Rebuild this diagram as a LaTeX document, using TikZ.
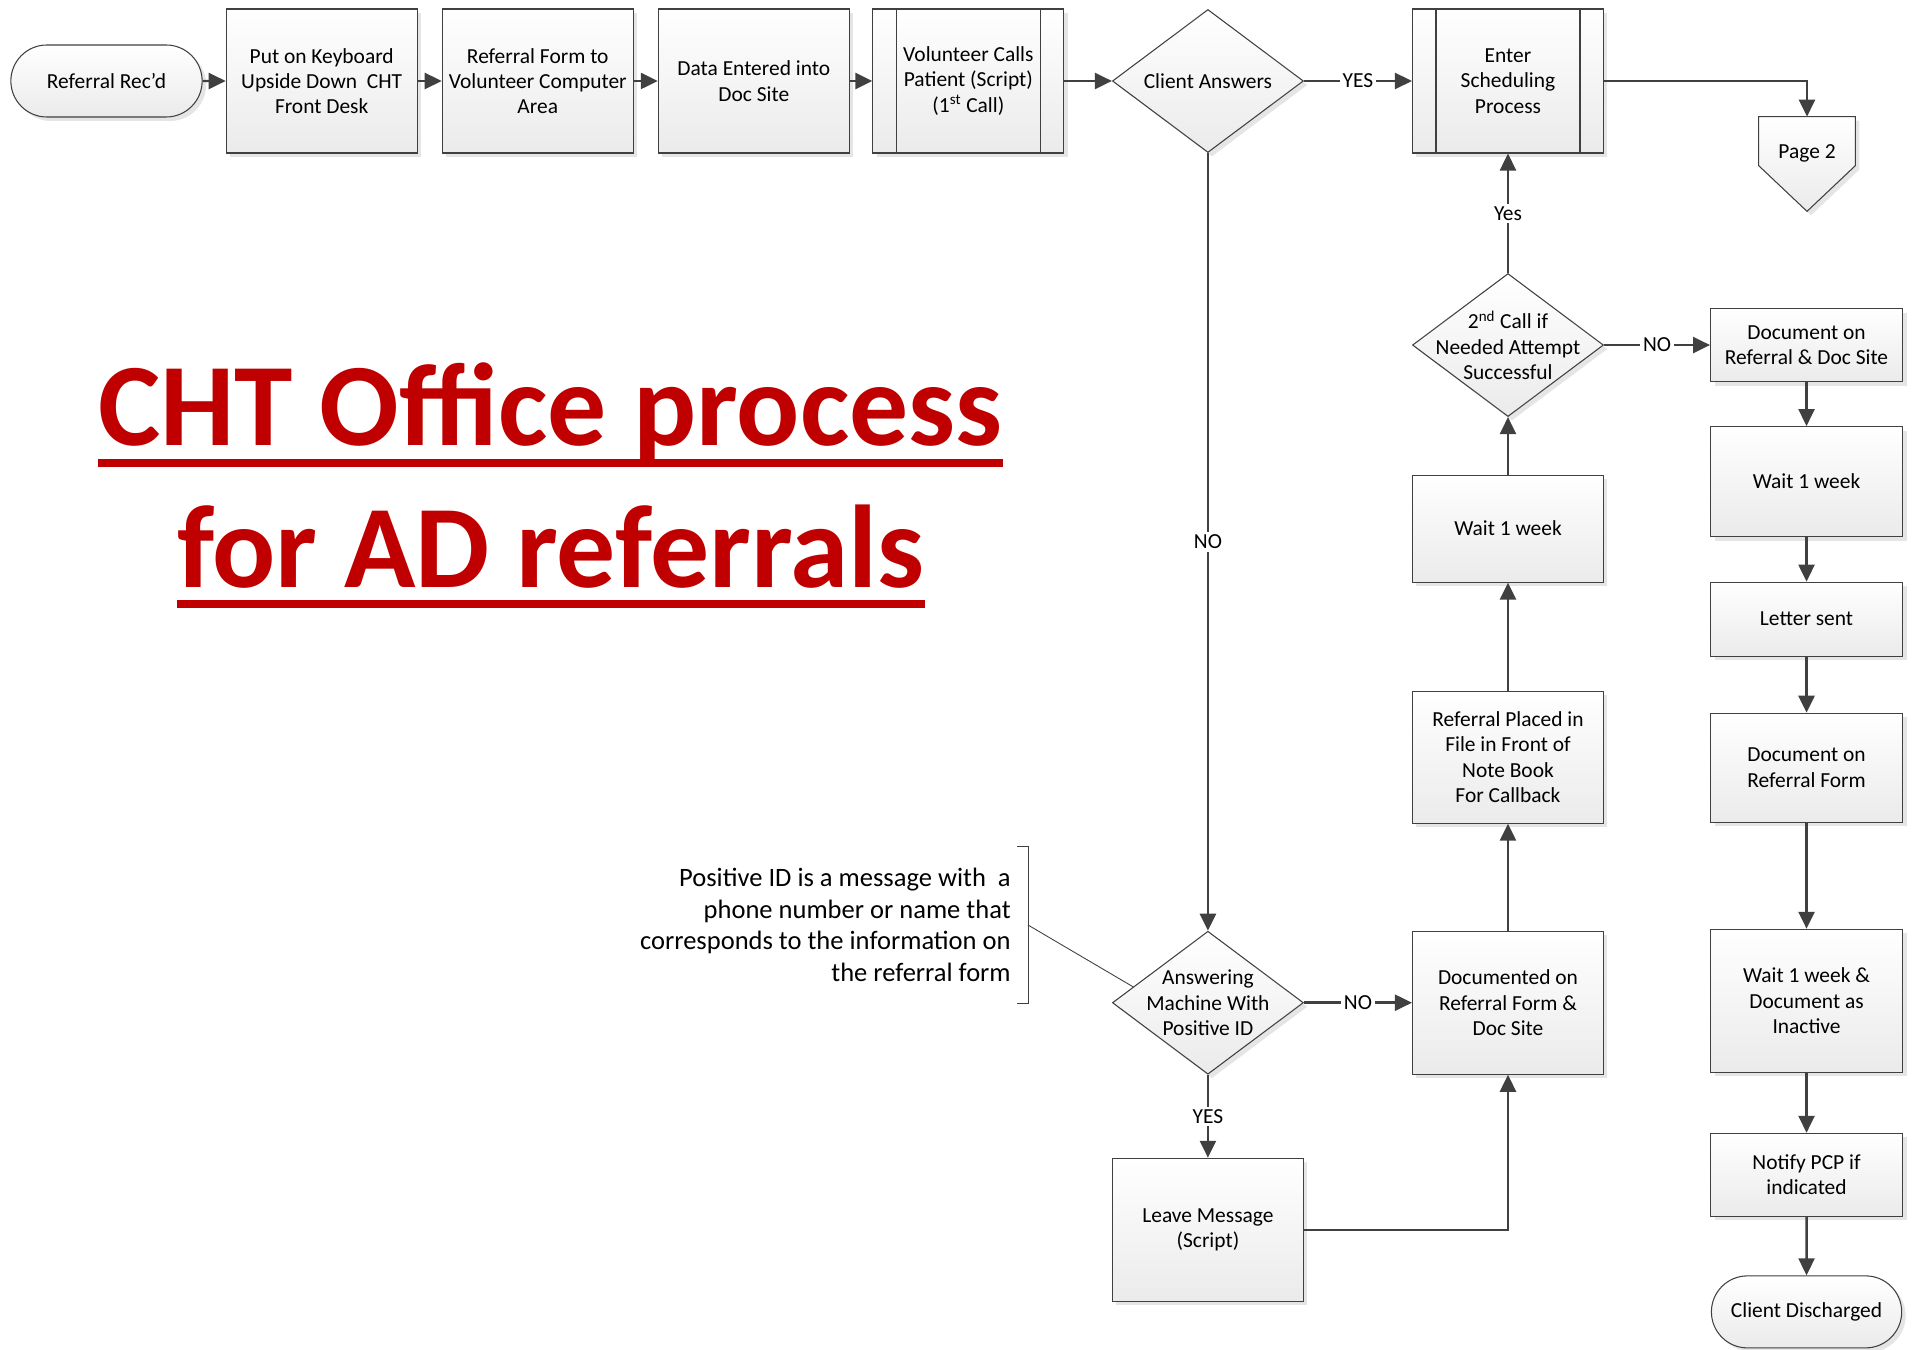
\documentclass[tikz,border=0pt]{standalone}
\usepackage{fontspec}
\setmainfont{Carlito}
\usepackage{xcolor}
\usepackage{tikz}
\usetikzlibrary{shapes.geometric, shapes.misc, arrows.meta, positioning, shadows, backgrounds, calc}
\definecolor{linegray}{HTML}{404040}
\definecolor{titlered}{HTML}{C00000}
\newcommand{\boxfont}{\fontsize{12.2}{14.4}\selectfont}
\tikzset{
  boxbase/.style={draw=linegray, line width=0.6pt, top color=white, bottom color=gray!16,
                  drop shadow={shadow xshift=0.08cm, shadow yshift=-0.08cm, fill=gray!40, opacity=0.5},
                  align=center, font=\boxfont},
  procbox/.style={boxbase, rectangle, minimum width=3.82cm, minimum height=2.88cm, inner sep=2pt},
  subproc/.style={procbox, path picture={
                    \draw[linegray, line width=0.6pt]
                      ([xshift=0.47cm]path picture bounding box.north west) -- ([xshift=0.47cm]path picture bounding box.south west)
                      ([xshift=-0.47cm]path picture bounding box.north east) -- ([xshift=-0.47cm]path picture bounding box.south east);}},
  terminal/.style={boxbase, rounded rectangle, minimum width=4.06cm, minimum height=1.44cm},
  decision/.style={boxbase, diamond, minimum width=3.82cm, minimum height=2.86cm, inner sep=0pt},
  dlabel/.style={align=center, font=\boxfont, inner sep=0pt},
  offpage/.style={rectangle, minimum width=1.92cm, minimum height=1.88cm, inner sep=0pt,
                  text height=0.3cm, text depth=0.5cm, font=\boxfont},
  arrow/.style={-{Triangle[length=0.34cm, width=0.32cm]}, line width=1.4pt, draw=linegray},
  branch/.style={fill=white, inner sep=1.5pt, font=\boxfont},
}

\begin{document}
\begin{tikzpicture}[
  titletext/.style={inner sep=0pt, text=titlered, font=\fontsize{67}{79}\selectfont\bfseries},
  titleline/.style={draw=titlered, line width=0.16cm},
  notetext/.style={align=right, inner xsep=0.34cm, inner ysep=0pt, font=\fontsize{15.1}{18}\selectfont},
  notebracket/.style={draw=linegray, line width=0.5pt}
]
  \useasboundingbox (0,0) rectangle (38.28,-27);

  % top row
  \node (rec) [terminal] at (2.13,-1.62) {Referral Rec'd};
  \node (keyb) [procbox, right=0.46cm of rec] {Put on Keyboard\\Upside Down\ \ CHT\\Front Desk};
  \node (form) [procbox, right=0.48cm of keyb] {Referral Form to\\Volunteer Computer\\Area};
  \node (data) [procbox, right=0.48cm of form] {Data Entered into\\Doc Site};
  \node (vol) [subproc, right=0.45cm of data] {Volunteer Calls\\Patient (Script)\\(1\textsuperscript{st} Call)};
  \node (ans) [decision, right=0.95cm of vol, label={[dlabel]center:Client Answers}] {};
  \node (sched) [subproc, right=2.16cm of ans] {Enter\\Scheduling\\Process};
  \node (page2) [offpage] at (36.14,-3.28) {Page 2};
  \begin{scope}[on background layer]
    \draw[boxbase] (page2.north west) -- (page2.north east) -- ([yshift=-0.98cm]page2.north east)
      -- (page2.south) -- ([yshift=-0.98cm]page2.north west) -- cycle;
  \end{scope}

  % middle column
  \node (call2) [decision, below=2.39cm of sched,
    label={[dlabel]center:2\textsuperscript{nd} Call if\\Needed Attempt\\Successful}] {};
  \node (wait1) [procbox, minimum height=2.14cm, below=1.15cm of call2] {Wait 1 week};
  \node (placed) [procbox, minimum height=2.64cm, below=2.16cm of wait1] {Referral Placed in\\File in Front of\\Note Book\\For Callback};
  \node (doced) [procbox, minimum height=2.86cm, below=2.14cm of placed] {Documented on\\Referral Form \&\\Doc Site};
  \node (machine) [decision, left=2.16cm of doced,
    label={[dlabel]center:Answering\\Machine With\\Positive ID}] {};
  \node (leave) [procbox, minimum height=2.86cm, below=1.66cm of machine] {Leave Message\\(Script)};

  % right column
  \node (docsite) [procbox, minimum width=3.84cm, minimum height=1.46cm, right=2.12cm of call2] {Document on\\Referral \& Doc Site};
  \node (wait2) [procbox, minimum width=3.84cm, minimum height=2.2cm, below=0.88cm of docsite] {Wait 1 week};
  \node (letter) [procbox, minimum width=3.84cm, minimum height=1.48cm, below=0.89cm of wait2] {Letter sent};
  \node (docform) [procbox, minimum width=3.84cm, minimum height=2.18cm, below=1.12cm of letter] {Document on\\Referral Form};
  \node (inactive) [procbox, minimum width=3.84cm, minimum height=2.86cm, below=2.12cm of docform] {Wait 1 week \&\\Document as\\Inactive};
  \node (notify) [procbox, minimum width=3.84cm, minimum height=1.66cm, below=1.2cm of inactive] {Notify PCP if\\indicated};
  \node (discharged) [terminal, minimum width=4.04cm, below=1.17cm of notify] {Client Discharged};

  % title and note
  \node (title1) [titletext, anchor=base] at (11.01,-8.92) {CHT Office process};
  \node (title2) [titletext, anchor=base] at (11.02,-11.74) {for AD referrals};
  \draw[titleline] ([yshift=-0.34cm]title1.base west) -- ([yshift=-0.34cm]title1.base east);
  \draw[titleline] ([yshift=-0.34cm]title2.base west) -- ([yshift=-0.34cm]title2.base east);

  \node (note) [notetext, minimum height=3.12cm, anchor=east] at (20.56,-18.5)
    {Positive ID is a message with\ \ a\\phone number or name that\\corresponds to the information on\\the referral form};
  \draw[notebracket] ([xshift=-0.22cm]note.north east) -- (note.north east) -- (note.south east) -- ([xshift=-0.22cm]note.south east);
  \draw[notebracket] (note.east) -- (machine.168);

  % connectors
  \draw[arrow] (rec) -- (keyb);
  \draw[arrow] (keyb) -- (form);
  \draw[arrow] (form) -- (data);
  \draw[arrow] (data) -- (vol);
  \draw[arrow] (vol) -- (ans);
  \draw[arrow] (ans.east) -- node[branch] {YES} (sched.west);
  \draw[arrow] (sched.east) -| (page2.north);
  \draw[arrow] (ans.south) -- node[branch] {NO} (machine.north);
  \draw[arrow] (machine.east) -- node[branch] {NO} (doced.west);
  \draw[arrow] (machine.south) -- node[branch] {YES} (leave.north);
  \draw[arrow] (leave.east) -| (doced.south);
  \draw[arrow] (doced) -- (placed);
  \draw[arrow] (placed) -- (wait1);
  \draw[arrow] (wait1) -- (call2.south);
  \draw[arrow] (call2.north) -- node[branch] {Yes} (sched.south);
  \draw[arrow] (call2.east) -- node[branch] {NO} (docsite.west);
  \draw[arrow] (docsite) -- (wait2);
  \draw[arrow] (wait2) -- (letter);
  \draw[arrow] (letter) -- (docform);
  \draw[arrow] (docform) -- (inactive);
  \draw[arrow] (inactive) -- (notify);
  \draw[arrow] (notify) -- (discharged);
\end{tikzpicture}
\end{document}
